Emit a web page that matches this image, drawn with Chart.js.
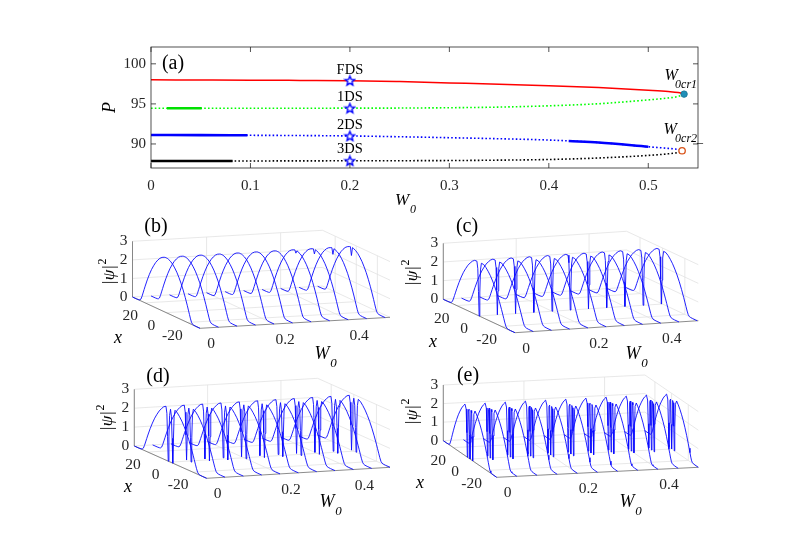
<!DOCTYPE html>
<html><head><meta charset="utf-8">
<script src="https://cdn.jsdelivr.net/npm/chart.js@4.4.1/dist/chart.umd.min.js"></script>
<style>
html,body{margin:0;padding:0;background:#fff;overflow:hidden}
#wrap{position:relative;width:789px;height:558px;background:#fff}
#wrap canvas{position:absolute;left:0;top:0}
</style></head><body>
<div id="wrap"><canvas id="chartA" width="789" height="558"></canvas><canvas id="chart3" width="789" height="558"></canvas></div>
<script>
// ================= Panel (a) data =================
const w0Axis = [0, 0.05, 0.1, 0.15, 0.2, 0.25, 0.3, 0.35, 0.4, 0.45, 0.5, 0.52, 0.53, 0.536];
const pFDS = [98.0, 97.98, 97.96, 97.93, 97.9, 97.78, 97.62, 97.46, 97.27, 97.04, 96.7, 96.54, 96.41, 96.22];
const p1DS = [94.45, 94.45, 94.46, 94.46, 94.47, 94.48, 94.52, 94.6, 94.76, 95.02, 95.5, 95.74, 95.93, 96.22];
const p2DS = [91.12, 91.1, 91.08, 91.05, 91.0, 90.9, 90.78, 90.65, 90.49, 90.18, 89.65, 89.45, 89.32, 89.15];
const p3DS = [87.88, 87.88, 87.88, 87.89, 87.9, 87.91, 87.93, 87.98, 88.06, 88.25, 88.57, 88.77, 88.93, 89.12];
const w1DSStable = [0.016, 0.051];        const p1DSStable = [94.45, 94.45];
const w2DSStableA = [0, 0.05, 0.097];     const p2DSStableA = [91.12, 91.1, 91.08];
const w2DSStableB = [0.42, 0.45, 0.5];    const p2DSStableB = [90.37, 90.18, 89.65];
const w3DSStable = [0, 0.05, 0.082];      const p3DSStable = [87.88, 87.88, 87.88];
const starW = [0.2, 0.2, 0.2, 0.2];       const starP = [97.9, 94.47, 91.0, 87.9];
const crW = [0.536, 0.534];               const crP = [96.22, 89.15];
const dsNames = ['FDS', '1DS', '2DS', '3DS'];
const dsLabelW = [0.2, 0.2, 0.2, 0.2];    const dsLabelP = [99.2, 95.85, 92.4, 89.36];
const xTicksA = [0, 0.1, 0.2, 0.3, 0.4, 0.5];
const yTicksA = [90, 95, 100];

// ================= Panels (b)-(e) data =================
const w0Profiles = [0, 0.05, 0.1, 0.15, 0.2, 0.25, 0.3, 0.35, 0.4, 0.45, 0.5];
// FDS profile |psi|^2 vs x
const xFDS   = [32,28,26,25,24,23,22,21,20,18,16,14,12,10,8,6,4,2,1,0,-1,-2,-4,-6,-8,-10,-12,-14,-16,-18,-20,-21,-22,-23,-24,-25,-26,-28,-32];
const psiFDS = [0,0,0.01,0.03,0.1,0.27,0.48,0.69,0.9,1.29,1.64,1.95,2.21,2.44,2.62,2.77,2.87,2.93,2.95,2.95,2.95,2.93,2.87,2.77,2.62,2.44,2.21,1.95,1.64,1.29,0.9,0.69,0.48,0.27,0.1,0.03,0.01,0,0];
// central value of the FDS profile for each W0 (small dip at large W0)
const fdsCenter = [2.95,2.95,2.95,2.95,2.95,2.95,2.95,2.8,2.7,2.62,2.5];
// 1DS profile
const x1DS   = [32,28,26,25,24,23,22,21,20,18,16,14,12,10,8,6,4,2,1.2,0.6,0,-0.6,-1.2,-2,-4,-6,-8,-10,-12,-14,-16,-18,-20,-21,-22,-23,-24,-25,-26,-28,-32];
const psi1DS = [0,0,0.01,0.03,0.1,0.27,0.48,0.69,0.9,1.29,1.64,1.95,2.21,2.44,2.62,2.77,2.87,2.88,2.5,1.3,0,1.3,2.5,2.88,2.87,2.77,2.62,2.44,2.21,1.95,1.64,1.29,0.9,0.69,0.48,0.27,0.1,0.03,0.01,0,0];
// 2DS profile
const x2DS   = [32,28,26,25,24,23,22,21,20,18,16,14,12,10,8,6,4,3.2,2.6,2,1.4,0.8,0,-0.8,-1.4,-2,-2.6,-3.2,-4,-6,-8,-10,-12,-14,-16,-18,-20,-21,-22,-23,-24,-25,-26,-28,-32];
const psi2DS = [0,0,0.01,0.03,0.1,0.27,0.48,0.69,0.9,1.29,1.64,1.95,2.21,2.44,2.62,2.77,2.85,2.5,1.3,0,1.3,2.45,2.8,2.45,1.3,0,1.3,2.5,2.85,2.77,2.62,2.44,2.21,1.95,1.64,1.29,0.9,0.69,0.48,0.27,0.1,0.03,0.01,0,0];
// 3DS profile
const x3DS   = [32,28,26,25,24,23,22,21,20,18,16,14,12,10,8,6,4.6,3.8,3.2,2.6,2,1.2,0.6,0,-0.6,-1.2,-2,-2.6,-3.2,-3.8,-4.6,-6,-8,-10,-12,-14,-16,-18,-20,-21,-22,-23,-24,-25,-26,-28,-32];
const psi3DS = [0,0,0.01,0.03,0.1,0.27,0.48,0.69,0.9,1.29,1.64,1.95,2.21,2.44,2.62,2.77,2.55,1.3,0,1.3,2.55,2.65,1.3,0,1.3,2.65,2.55,1.3,0,1.3,2.55,2.77,2.62,2.44,2.21,1.95,1.64,1.29,0.9,0.69,0.48,0.27,0.1,0.03,0.01,0,0];
const zTicks3 = [0, 1, 2, 3];
const xTicks3 = [20, 0, -20];
const wTicks3 = [0, 0.2, 0.4];
const panelNames = ['(b)', '(c)', '(d)', '(e)'];

// ================= layout (positions / styles) =================
const SERIF = "'Liberation Serif','Times New Roman',serif";
const view3 = [
  {BL:[132.5,297],  Wv:[190,-11],   Xv:[67.5,31.3], Zs:18.57, Wmin:0, Wmax:0.513, xmin:-32, xmax:32,
   tag:[156,227], psi:[110,272], xl:[118,338], W:[322,354]},
  {BL:[443.3,299.3],Wv:[183.3,-12], Xv:[71.7,33.4], Zs:18.67, Wmin:0, Wmax:0.503, xmin:-32, xmax:32,
   tag:[467,227], psi:[413,273], xl:[433,342], W:[633,354]},
  {BL:[134.3,446],  Wv:[183.3,-11], Xv:[72.4,32.3], Zs:18.9,  Wmin:0, Wmax:0.5, xmin:-32, xmax:32,
   tag:[158,377], psi:[108,418], xl:[128,487], W:[327,502]},
  {BL:[443.3,440.7],Wv:[201.6,-10], Xv:[53.4,36.6], Zs:18.57, Wmin:0, Wmax:0.5, xmin:-32, xmax:32,
   tag:[468,376], psi:[413,412], xl:[420,483], W:[627,502]}
];

function txt(ctx, s, x, y, size, o) {
  o = o || {};
  ctx.save();
  ctx.font = (o.italic ? 'italic ' : '') + size + 'px ' + SERIF;
  ctx.fillStyle = o.color || '#000';
  ctx.textAlign = o.align || 'center';
  ctx.textBaseline = o.base || 'middle';
  if (o.rot) { ctx.translate(x, y); ctx.rotate(o.rot); ctx.fillText(s, 0, 0); }
  else ctx.fillText(s, x, y);
  ctx.restore();
}
function pairs(xs, ys) { return xs.map((x, i) => ({x: x, y: ys[i]})); }
function lineDs(xs, ys, style) {
  return Object.assign({data: pairs(xs, ys), showLine: true, pointRadius: 0, fill: false,
    cubicInterpolationMode: 'monotone', borderCapStyle: 'butt', order: 2}, style);
}
function makeStar() {
  const c = document.createElement('canvas'); c.width = 13; c.height = 13;
  const g = c.getContext('2d');
  g.beginPath();
  for (let k = 0; k < 10; k++) {
    const r = k % 2 ? 2.2 : 5.0, a = -Math.PI / 2 + k * Math.PI / 5;
    const px = 6.5 + r * Math.cos(a), py = 6.9 + r * Math.sin(a);
    k ? g.lineTo(px, py) : g.moveTo(px, py);
  }
  g.closePath(); g.fillStyle = '#fff'; g.fill();
  g.strokeStyle = '#0000ff'; g.lineWidth = 1.4; g.stroke();
  return c;
}
const starImg = makeStar();

// ================= Chart (a) =================
const plugA = {
  id: 'plugA',
  afterDraw(chart) {
    const ctx = chart.ctx, a = chart.chartArea, sx = chart.scales.x, sy = chart.scales.y;
    ctx.save();
    ctx.strokeStyle = '#262626'; ctx.lineWidth = 0.8;
    ctx.strokeRect(a.left, a.top, a.right - a.left, a.bottom - a.top);
    ctx.beginPath();
    xTicksA.forEach(v => { const p = sx.getPixelForValue(v);
      ctx.moveTo(p, a.bottom); ctx.lineTo(p, a.bottom - 5); ctx.moveTo(p, a.top); ctx.lineTo(p, a.top + 5); });
    yTicksA.forEach(v => { const p = sy.getPixelForValue(v);
      ctx.moveTo(a.left, p); ctx.lineTo(a.left + 5, p); ctx.moveTo(a.right, p); ctx.lineTo(a.right - 5, p); });
    ctx.stroke();
    ctx.restore();
    dsNames.forEach((n, i) => txt(ctx, n, sx.getPixelForValue(dsLabelW[i]), sy.getPixelForValue(dsLabelP[i]), 14.5));
    txt(ctx, '(a)', a.left + 22, a.top + 17, 20);
    txt(ctx, 'P', a.left - 41, (a.top + a.bottom) / 2, 18, {italic: true, rot: -Math.PI / 2});
    txt(ctx, 'W', 402, 201, 17, {italic: true});
    txt(ctx, '0', 413, 210, 12, {italic: true});
    // critical point labels
    const c1x = sx.getPixelForValue(crW[0]), c1y = sy.getPixelForValue(crP[0]);
    txt(ctx, 'W', c1x - 13, c1y - 18, 16, {italic: true});
    txt(ctx, '0cr1', c1x - 9, c1y - 9, 12, {align: 'left', italic: true});
    const c2x = sx.getPixelForValue(crW[1]), c2y = sy.getPixelForValue(crP[1]);
    txt(ctx, 'W', c2x - 12, c2y - 21, 16, {italic: true});
    txt(ctx, '0cr2_', c2x - 7, c2y - 12, 12, {align: 'left', italic: true});
  }
};
new Chart(document.getElementById('chartA'), {
  type: 'scatter',
  data: {datasets: [
    lineDs(w0Axis, pFDS, {borderColor: '#ff0000', borderWidth: 1.5}),
    lineDs(w0Axis, p1DS, {borderColor: '#00ff00', borderWidth: 1.6, borderDash: [1.6, 2.2]}),
    lineDs(w0Axis, p2DS, {borderColor: '#0000ff', borderWidth: 1.6, borderDash: [1.6, 2.2]}),
    lineDs(w0Axis, p3DS, {borderColor: '#000000', borderWidth: 1.6, borderDash: [1.6, 2.2]}),
    lineDs(w1DSStable, p1DSStable, {borderColor: '#00e000', borderWidth: 2.6, order: 1}),
    lineDs(w2DSStableA, p2DSStableA, {borderColor: '#0000ff', borderWidth: 2.6, order: 1}),
    lineDs(w2DSStableB, p2DSStableB, {borderColor: '#0000ff', borderWidth: 2.6, order: 1}),
    lineDs(w3DSStable, p3DSStable, {borderColor: '#000000', borderWidth: 2.6, order: 1}),
    {data: pairs(starW, starP), showLine: false, pointStyle: starImg, pointRadius: 6, order: 0},
    {data: pairs(crW.slice(0, 1), crP.slice(0, 1)), showLine: false, pointRadius: 3.2, pointStyle: 'circle',
     backgroundColor: '#1f8fb8', borderColor: '#1a7a9a', borderWidth: 1, order: 0},
    {data: pairs(crW.slice(1), crP.slice(1)), showLine: false, pointRadius: 3.2, pointStyle: 'circle',
     backgroundColor: '#ffffff', borderColor: '#D95319', borderWidth: 1.3, order: 0}
  ]},
  options: {
    responsive: false, animation: false, events: [],
    layout: {padding: {left: 111, right: 91, top: 47, bottom: 360}},
    plugins: {legend: {display: false}, tooltip: {enabled: false}},
    scales: {
      x: {type: 'linear', min: 0, max: 0.55,
          afterFit: s => { s.height = 30; },
          afterBuildTicks: s => { s.ticks = xTicksA.map(v => ({value: v})); },
          grid: {display: false, drawTicks: false}, border: {display: false},
          ticks: {padding: 9, maxRotation: 0, autoSkip: false, color: '#262626', font: {family: SERIF, size: 15}}},
      y: {type: 'linear', min: 87, max: 102.1,
          afterFit: s => { s.width = 40; },
          afterBuildTicks: s => { s.ticks = yTicksA.map(v => ({value: v})); },
          grid: {display: false, drawTicks: false}, border: {display: false},
          ticks: {padding: 5, autoSkip: false, color: '#262626', font: {family: SERIF, size: 15}}}
    }
  },
  plugins: [plugA]
});

// ================= Charts (b)-(e) : projected 3-D waterfalls =================
function proj(L, W, x, z) {
  const fw = (W - L.Wmin) / (L.Wmax - L.Wmin), fx = (L.xmax - x) / (L.xmax - L.xmin);
  return {x: L.BL[0] + fw * L.Wv[0] + fx * L.Xv[0], y: L.BL[1] + fw * L.Wv[1] + fx * L.Xv[1] - z * L.Zs};
}
const GAP = {x: NaN, y: NaN};
function segs(L, list) {
  const out = [];
  list.forEach(s => { out.push(proj(L, s[0][0], s[0][1], s[0][2]), proj(L, s[1][0], s[1][1], s[1][2]), GAP); });
  return out;
}
const profileSets = [
  {xs: xFDS, ps: psiFDS, center: fdsCenter},
  {xs: x1DS, ps: psi1DS},
  {xs: x2DS, ps: psi2DS},
  {xs: x3DS, ps: psi3DS}
];
const ds3 = [];
view3.forEach((L, pi) => {
  const zt = zTicks3[zTicks3.length - 1];
  const grid = [];
  zTicks3.forEach(z => { grid.push([[L.Wmin, L.xmax, z], [L.Wmax, L.xmax, z]]); grid.push([[L.Wmax, L.xmax, z], [L.Wmax, L.xmin, z]]); });
  wTicks3.forEach(w => { grid.push([[w, L.xmax, 0], [w, L.xmax, zt]]); grid.push([[w, L.xmax, 0], [w, L.xmin, 0]]); });
  xTicks3.forEach(x => { grid.push([[L.Wmax, x, 0], [L.Wmax, x, zt]]); grid.push([[L.Wmin, x, 0], [L.Wmax, x, 0]]); });
  ds3.push({data: segs(L, grid), showLine: true, pointRadius: 0, borderColor: '#e2e2e2', borderWidth: 0.8, spanGaps: false, order: 5});
  const axes = [[[L.Wmin, L.xmax, 0], [L.Wmin, L.xmax, zt]], [[L.Wmin, L.xmax, 0], [L.Wmin, L.xmin, 0]], [[L.Wmin, L.xmin, 0], [L.Wmax, L.xmin, 0]]];
  ds3.push({data: segs(L, axes), showLine: true, pointRadius: 0, borderColor: '#6e6e6e', borderWidth: 0.8, spanGaps: false, order: 4});
  const P = profileSets[pi];
  const pts = [];
  w0Profiles.forEach((w, wi) => {
    P.xs.forEach((x, k) => {
      let v = P.ps[k];
      if (P.center && x === 0) v = P.center[wi];
      pts.push(proj(L, w, x, v));
    });
    pts.push(GAP);
  });
  ds3.push({data: pts, showLine: true, pointRadius: 0, borderColor: '#0a0aff', borderWidth: 0.9, spanGaps: false, tension: 0, order: 1});
});
const plug3 = {
  id: 'plug3',
  afterDraw(chart) {
    const ctx = chart.ctx, sx = chart.scales.x, sy = chart.scales.y;
    const px = p => [sx.getPixelForValue(p.x), sy.getPixelForValue(p.y)];
    view3.forEach((L, pi) => {
      zTicks3.forEach(z => { const q = px(proj(L, L.Wmin, L.xmax, z)); txt(ctx, String(z), q[0] - 5, q[1], 15.5, {align: 'right', color: '#262626'}); });
      xTicks3.forEach(x => { const q = px(proj(L, L.Wmin, x, 0)); txt(ctx, String(x), q[0] - 15, q[1] + 13, 15.5, {color: '#262626'}); });
      wTicks3.forEach(w => { const q = px(proj(L, w, L.xmin, 0)); txt(ctx, String(w), q[0] + 11, q[1] + 16, 15.5, {color: '#262626'}); });
      txt(ctx, panelNames[pi], L.tag[0], L.tag[1], 20);
      ctx.save();
      ctx.translate(L.psi[0], L.psi[1]); ctx.rotate(-Math.PI / 2);
      ctx.font = 'italic 17px ' + SERIF; ctx.fillStyle = '#000'; ctx.textBaseline = 'middle'; ctx.textAlign = 'left';
      const wps = ctx.measureText('|ψ|').width;
      ctx.fillText('|ψ|', -(wps + 6) / 2, 0);
      ctx.font = '12px ' + SERIF;
      ctx.fillText('2', -(wps + 6) / 2 + wps + 0.5, -7);
      ctx.restore();
      txt(ctx, 'x', L.xl[0], L.xl[1], 18, {italic: true});
      txt(ctx, 'W', L.W[0], L.W[1], 18, {italic: true});
      txt(ctx, '0', L.W[0] + 11.5, L.W[1] + 10, 13, {italic: true});
    });
  }
};
new Chart(document.getElementById('chart3'), {
  type: 'scatter',
  data: {datasets: ds3},
  options: {
    responsive: false, animation: false, events: [],
    layout: {padding: 0},
    plugins: {legend: {display: false}, tooltip: {enabled: false}},
    scales: {
      x: {type: 'linear', min: 0, max: 789, display: false},
      y: {type: 'linear', min: 0, max: 558, reverse: true, display: false}
    }
  },
  plugins: [plug3]
});
</script>
</body></html>
